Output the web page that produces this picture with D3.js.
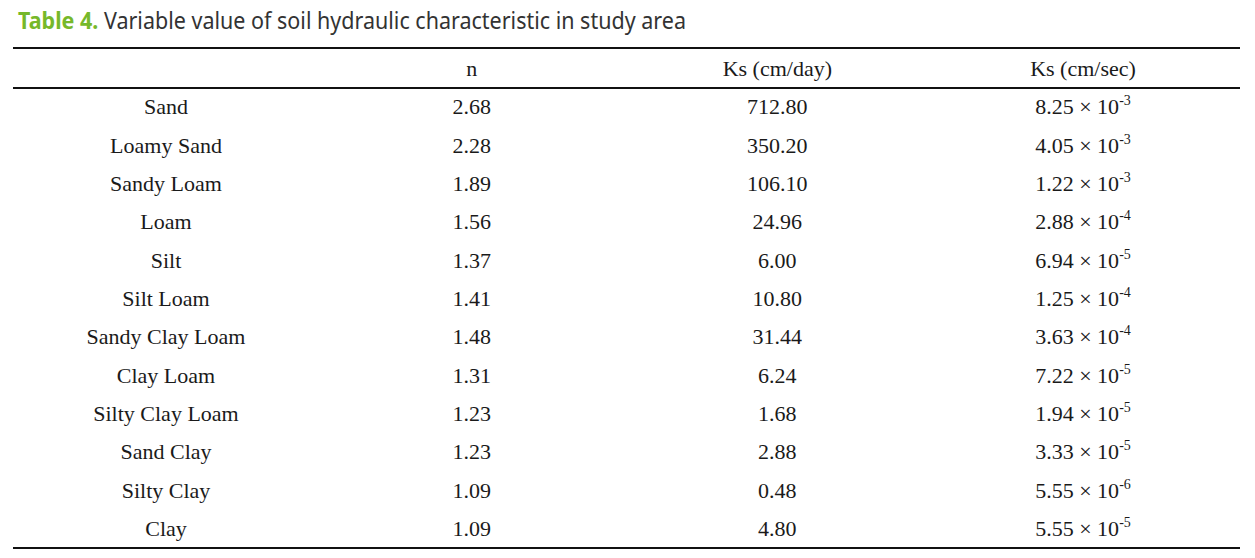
<!DOCTYPE html>
<html>
<head>
<meta charset="utf-8">
<script src="https://cdn.jsdelivr.net/npm/d3@7"></script>
<style>
  body { margin: 0; background: #fff; }
  svg { display: block; }
</style>
</head>
<body>
<svg id="table" width="1255" height="558"></svg>
<script>
// table data
var soils = ["Sand", "Loamy Sand", "Sandy Loam", "Loam", "Silt", "Silt Loam", "Sandy Clay Loam",
             "Clay Loam", "Silty Clay Loam", "Sand Clay", "Silty Clay", "Clay"];
var nVals = ["2.68", "2.28", "1.89", "1.56", "1.37", "1.41", "1.48", "1.31", "1.23", "1.23", "1.09", "1.09"];
var ksDay = ["712.80", "350.20", "106.10", "24.96", "6.00", "10.80", "31.44", "6.24", "1.68", "2.88", "0.48", "4.80"];
var ksSecMant = ["8.25", "4.05", "1.22", "2.88", "6.94", "1.25", "3.63", "7.22", "1.94", "3.33", "5.55", "5.55"];
var ksSecExp = ["-3", "-3", "-3", "-4", "-5", "-4", "-4", "-5", "-5", "-5", "-6", "-5"];
var headers = ["", "n", "Ks (cm/day)", "Ks (cm/sec)"];

var svg = d3.select("#table");

var margin = {left: 13, right: 15, top: 48, headerBottom: 88, bottom: 548};

var cols = d3.scalePoint()
    .domain(d3.range(headers.length))
    .range([166, 1083]);

var rows = d3.scaleBand()
    .domain(soils)
    .range([margin.headerBottom, margin.bottom]);

// title
var title = svg.append("text")
    .attr("x", 18)
    .attr("y", 29)
    .style("font-family", "'Noto Sans', sans-serif")
    .style("font-size", "23px")
    .attr("textLength", 668)
    .attr("lengthAdjust", "spacingAndGlyphs");
title.append("tspan")
    .attr("fill", "#76b82a")
    .style("font-weight", "bold")
    .text("Table 4. ");
title.append("tspan")
    .attr("fill", "#333")
    .text("Variable value of soil hydraulic characteristic in study area");

// rules
[margin.top, margin.headerBottom, margin.bottom].forEach(function (y) {
    svg.append("line")
        .attr("x1", margin.left)
        .attr("x2", 1255 - margin.right)
        .attr("y1", y)
        .attr("y2", y)
        .attr("stroke", "#111")
        .attr("stroke-width", 2);
});

var cellFont = "'Liberation Serif', 'Times New Roman', serif";

// header
svg.append("g").selectAll("text")
    .data(headers)
    .join("text")
    .attr("x", (d, i) => cols(i))
    .attr("y", 76)
    .attr("text-anchor", "middle")
    .style("font-family", cellFont)
    .style("font-size", "22px")
    .attr("fill", "#1a1a1a")
    .text(d => d);

// body rows
var rowG = svg.append("g").selectAll("g")
    .data(soils)
    .join("g")
    .attr("transform", d => "translate(0," + (rows(d) + rows.bandwidth() / 2 + 7) + ")")
    .style("font-family", cellFont)
    .style("font-size", "22px")
    .attr("fill", "#1a1a1a")
    .attr("text-anchor", "middle");

rowG.append("text").attr("x", cols(0)).text(d => d);
rowG.append("text").attr("x", cols(1)).text((d, i) => nVals[i]);
rowG.append("text").attr("x", cols(2)).text((d, i) => ksDay[i]);

var sec = rowG.append("text").attr("x", cols(3));
sec.append("tspan").text((d, i) => ksSecMant[i] + " \u00d7 10");
sec.append("tspan")
    .attr("dy", -9)
    .style("font-size", "14px")
    .text((d, i) => ksSecExp[i]);
</script>
</body>
</html>
